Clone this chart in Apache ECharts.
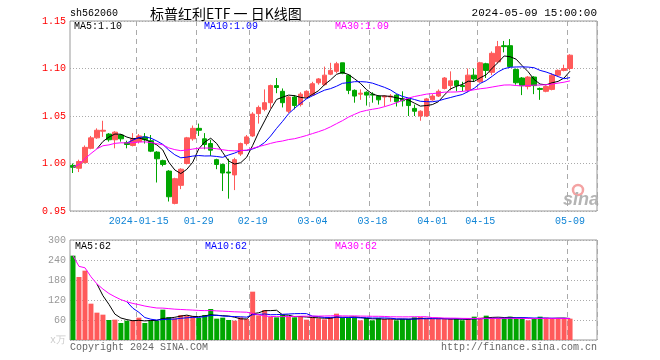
<!DOCTYPE html>
<html><head><meta charset="utf-8">
<script src="https://cdn.jsdelivr.net/npm/echarts@6/dist/echarts.min.js"></script>
<style>html,body{margin:0;padding:0;background:#fff}#c{width:660px;height:360px}</style>
</head><body><div id="c"></div>
<script>
const dates = ['2023-12-28','2023-12-29',
'2024-01-02','2024-01-03','2024-01-04','2024-01-05','2024-01-08','2024-01-09','2024-01-10','2024-01-11','2024-01-12',
'2024-01-15','2024-01-16','2024-01-17','2024-01-18','2024-01-19','2024-01-22','2024-01-23','2024-01-24','2024-01-25','2024-01-26',
'2024-01-29','2024-01-30','2024-01-31','2024-02-01','2024-02-02','2024-02-05','2024-02-06','2024-02-07','2024-02-08',
'2024-02-19','2024-02-20','2024-02-21','2024-02-22','2024-02-23','2024-02-26','2024-02-27','2024-02-28','2024-02-29','2024-03-01',
'2024-03-04','2024-03-05','2024-03-06','2024-03-07','2024-03-08','2024-03-11','2024-03-12','2024-03-13','2024-03-14','2024-03-15',
'2024-03-18','2024-03-19','2024-03-20','2024-03-21','2024-03-22','2024-03-25','2024-03-26','2024-03-27','2024-03-28','2024-03-29',
'2024-04-01','2024-04-02','2024-04-03','2024-04-08','2024-04-09','2024-04-10','2024-04-11','2024-04-12',
'2024-04-15','2024-04-16','2024-04-17','2024-04-18','2024-04-19','2024-04-22','2024-04-23','2024-04-24','2024-04-25','2024-04-26',
'2024-04-29','2024-04-30','2024-05-06','2024-05-07','2024-05-08','2024-05-09'];
const opens = [0.998,0.995,1.001,1.016,1.027,1.034,1.031,1.025,1.030,1.022,
1.019,1.023,1.028,1.024,1.012,1.003,0.992,0.958,0.977,1.000,
1.026,1.037,1.026,1.021,1.004,0.999,0.991,0.988,1.010,1.021,
1.029,1.0525,1.057,1.064,1.082,1.076,1.055,1.070,1.062,1.070,
1.072,1.085,1.083,1.094,1.097,1.106,1.093,1.077,1.073,1.075,
1.073,1.071,1.070,1.070,1.072,1.068,1.068,1.058,1.050,1.050,
1.067,1.071,1.079,1.082,1.087,1.082,1.077,1.093,1.086,1.105,
1.096,1.107,1.124,1.124,1.099,1.090,1.081,1.091,1.079,1.076,
1.078,1.093,1.098,1.100];
const closes = [0.996,1.002,1.017,1.027,1.035,1.035,1.025,1.033,1.026,1.020,
1.026,1.029,1.025,1.013,1.005,0.999,0.965,0.984,0.994,1.027,
1.037,1.035,1.020,1.014,0.999,0.990,0.990,1.004,1.021,1.028,
1.052,1.059,1.064,1.082,1.080,1.064,1.070,1.061,1.073,1.076,
1.084,1.089,1.093,1.098,1.105,1.095,1.077,1.071,1.074,1.072,
1.072,1.067,1.071,1.071,1.065,1.066,1.061,1.055,1.055,1.068,
1.071,1.076,1.090,1.087,1.082,1.081,1.093,1.089,1.106,1.098,
1.116,1.123,1.123,1.102,1.085,1.082,1.091,1.082,1.078,1.081,
1.093,1.098,1.100,1.114];
const lows = [0.990,0.991,1.000,1.015,1.026,1.028,1.023,1.016,1.023,1.016,
1.018,1.021,1.021,1.012,0.980,0.997,0.960,0.957,0.973,0.999,
1.024,1.029,1.015,1.008,0.994,0.971,0.963,0.972,1.008,1.019,
1.028,1.042,1.055,1.058,1.074,1.059,1.053,1.057,1.060,1.069,
1.071,1.083,1.082,1.093,1.095,1.094,1.073,1.064,1.067,1.061,
1.064,1.062,1.060,1.065,1.060,1.060,1.050,1.050,1.045,1.049,
1.066,1.070,1.078,1.077,1.076,1.076,1.075,1.086,1.085,1.090,
1.093,1.106,1.117,1.101,1.083,1.072,1.078,1.073,1.067,1.075,
1.077,1.092,1.097,1.098];
const highs = [1.000,1.004,1.019,1.029,1.037,1.045,1.032,1.034,1.031,1.024,
1.032,1.031,1.032,1.030,1.013,1.004,0.993,0.985,0.995,1.028,
1.040,1.042,1.032,1.025,1.005,1.000,1.005,1.006,1.022,1.030,
1.054,1.061,1.078,1.083,1.090,1.079,1.071,1.072,1.075,1.077,
1.086,1.090,1.102,1.106,1.107,1.106,1.094,1.078,1.078,1.076,
1.075,1.072,1.072,1.073,1.073,1.076,1.069,1.062,1.056,1.069,
1.073,1.078,1.091,1.097,1.088,1.086,1.100,1.100,1.107,1.106,
1.118,1.129,1.129,1.131,1.100,1.091,1.092,1.092,1.080,1.082,
1.095,1.099,1.104,1.115];
const volumes = [253,189,208,109,82,76,60,61,51,58,
59,67,51,58,58,91,69,65,75,73,
72,66,75,93,64,67,60,58,68,63,
145,74,90,69,68,76,69,68,71,61,
68,65,62,69,79,66,66,68,59,66,
59,66,63,63,59,63,63,68,69,63,
63,63,63,63,63,59,63,70,67,73,
66,66,65,70,65,65,59,63,70,67,
64,63,64,64];
const tickDates = ['2024-01-15','2024-01-29','2024-02-19','2024-03-04','2024-03-18','2024-04-01','2024-04-15','2024-05-09'];
const tickLabels = ['2024-01-15','01-29','02-19','03-04','03-18','04-01','04-15','05-09'];
const priceTicks = [0.95, 1.15, 0.05];
const volTicks = [0, 300, 60];
const priceLegend = ['MA5:1.10','MA10:1.09','MA30:1.09'];
const volLegend = ['MA5:62','MA10:62','MA30:62'];

const PAD = 4;
const cats = dates.concat(Array.from({length: PAD}, (_, i) => 'pad' + i));
const labelMap = {};
tickDates.forEach((d, i) => labelMap[d] = tickLabels[i]);
const isTick = (idx, val) => labelMap[val] !== undefined;

function ma(arr, n) {
  return arr.map((v, i) => {
    if (n === 30 && i < n - 1) {
      let s = 0; for (let j = 0; j <= i; j++) s += arr[j];
      return +(s / (i + 1)).toFixed(4);
    }
    if (i < n - 1) return '-';
    let s = 0; for (let j = i - n + 1; j <= i; j++) s += arr[j];
    return +(s / n).toFixed(4);
  });
}

const RED = '#ff5a5a', GREEN = '#00a600';
const kData = opens.map((o, i) => [o, closes[i], lows[i], highs[i]]);
const volData = volumes.map((v, i) => ({value: v, itemStyle: {color: closes[i] >= opens[i] ? RED : GREEN}}));

const MONO = "'Liberation Mono', 'DejaVu Sans Mono', monospace";
const txt = (text, x, y, color, align, font) => ({
  type: 'text', x: x, y: y, silent: true,
  style: {text: text, fill: color, font: font || ('10px ' + MONO), align: align || 'left', verticalAlign: 'middle',
          textAlign: align || 'left', textVerticalAlign: 'middle'}
});

const lineS = (name, data, color, xi) => ({
  name: name, type: 'line', data: data, xAxisIndex: xi, yAxisIndex: xi,
  symbol: 'none', smooth: false, animation: false,
  lineStyle: {color: color, width: 1}, itemStyle: {color: color}
});

const xCommon = (gi, showLabel) => ({
  type: 'category', gridIndex: gi, data: cats, boundaryGap: true,
  axisLine: {show: false}, axisTick: {show: false},
  axisLabel: {show: showLabel, interval: isTick, formatter: v => labelMap[v] || '',
              color: '#1185d6', fontSize: 10, fontFamily: MONO, margin: 5, hideOverlap: false},
  splitLine: {show: true, interval: isTick, lineStyle: {color: '#aaa', type: [5, 4], width: 1}}
});

const chart = echarts.init(document.getElementById('c'), null, {renderer: 'canvas'});
chart.setOption({
  animation: false,
  backgroundColor: '#fff',
  grid: [
    {left: 70, top: 21, width: 527, height: 190, show: true, borderColor: '#999', borderWidth: 1, containLabel: false},
    {left: 70, top: 240, width: 527, height: 100, show: true, borderColor: '#999', borderWidth: 1, containLabel: false}
  ],
  xAxis: [xCommon(0, true), xCommon(1, false)],
  yAxis: [
    {type: 'value', gridIndex: 0, min: priceTicks[0], max: priceTicks[1], interval: priceTicks[2], scale: true,
     axisLine: {show: false}, axisTick: {show: false},
     axisLabel: {color: '#f00', fontSize: 10, fontFamily: MONO, margin: 4, formatter: v => v.toFixed(2), showMinLabel: true, showMaxLabel: true},
     splitLine: {show: true, lineStyle: {color: '#aaa', type: [1, 2], width: 1}}},
    {type: 'value', gridIndex: 1, min: volTicks[0], max: volTicks[1], interval: volTicks[2],
     axisLine: {show: false}, axisTick: {show: false},
     axisLabel: {color: '#999', fontSize: 10, fontFamily: MONO, margin: 4, showMinLabel: true, showMaxLabel: true,
                 formatter: v => v === 0 ? '{u|x万}' : String(v),
                 rich: {u: {color: '#ccc', fontSize: 10, fontFamily: MONO}}},
     splitLine: {show: true, lineStyle: {color: '#aaa', type: [1, 2], width: 1}}}
  ],
  series: [
    {type: 'candlestick', xAxisIndex: 0, yAxisIndex: 0, data: kData, barWidth: 5,
     itemStyle: {color: RED, color0: GREEN, borderColor: RED, borderColor0: GREEN, borderWidth: 1}},
    lineS('MA5', ma(closes, 5), '#000', 0),
    lineS('MA10', ma(closes, 10), '#0000ff', 0),
    lineS('MA30', ma(closes, 30), '#ff00ff', 0),
    {type: 'bar', xAxisIndex: 1, yAxisIndex: 1, data: volData, barWidth: 5},
    lineS('VMA5', ma(volumes, 5), '#000', 1),
    lineS('VMA10', ma(volumes, 10), '#0000ff', 1),
    lineS('VMA30', ma(volumes, 30), '#ff00ff', 1)
  ],
  graphic: [
    txt('sh562060', 70, 13, '#000'),
    txt('标普红利ETF 一 日K线图', 150, 14, '#000', 'left', "14px 'Noto Sans CJK SC', sans-serif"),
    txt('2024-05-09 15:00:00', 597, 13, '#000', 'right', '11px ' + MONO),
    txt(priceLegend[0], 74, 26, '#000'),
    txt(priceLegend[1], 204, 26, '#0000ff'),
    txt(priceLegend[2], 335, 26, '#ff00ff'),
    txt(volLegend[0], 75, 246, '#000'),
    txt(volLegend[1], 205, 246, '#0000ff'),
    txt(volLegend[2], 335, 246, '#ff00ff'),
    txt('Copyright 2024 SINA.COM', 70, 347, '#666'),
    txt('http://finance.sina.com.cn', 597, 347, '#666', 'right'),
    {type: 'circle', silent: true, shape: {cx: 578, cy: 190, r: 5}, style: {fill: 'none', stroke: '#f4a3a3', lineWidth: 2.5}},
    txt('sina', 581, 200, '#b4b4b4', 'center', "italic bold 18px 'Liberation Sans', sans-serif")
  ]
});
</script></body></html>
